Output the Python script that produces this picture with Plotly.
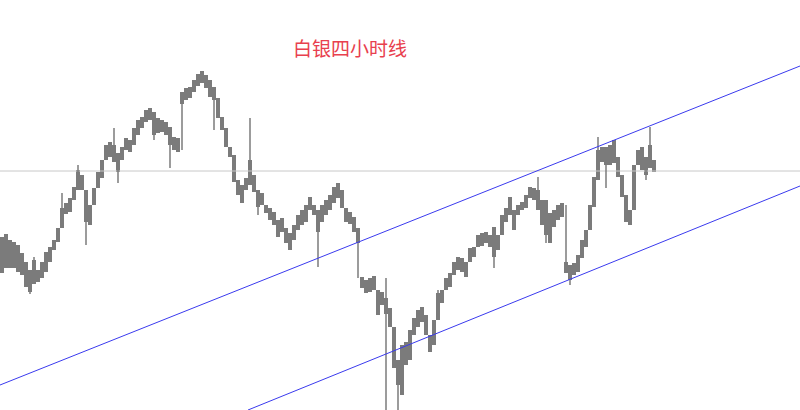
import plotly.graph_objects as go

# ---- data: silver 4-hour bars (high / low envelope per bar) ----
highs = [16.73, 16.76, 16.70, 16.68, 16.65, 16.57, 16.48, 16.40, 16.50, 16.40,
         16.48, 16.58, 16.63, 16.70, 16.82, 17.02, 17.07, 17.12, 17.23, 17.40,
         17.35, 17.20, 17.05, 17.22, 17.38, 17.50, 17.65, 17.68, 17.65, 17.57,
         17.63, 17.72, 17.70, 17.82, 17.90, 17.93, 18.00, 18.02, 17.98, 17.92,
         17.90, 17.88, 17.83, 17.73, 17.72, 18.18, 18.22, 18.23, 18.30, 18.36,
         18.39, 18.35, 18.30, 18.23, 18.12, 17.93, 17.82, 17.63, 17.55, 17.30,
         17.25, 17.32, 17.50, 17.35, 17.20, 17.17, 17.05, 17.02, 16.98, 16.90,
         16.92, 16.82, 16.77, 16.85, 16.95, 17.00, 17.05, 17.13, 17.05, 17.00,
         17.05, 17.10, 17.15, 17.23, 17.27, 17.20, 17.02, 16.98, 16.93, 16.82,
         16.33, 16.30, 16.32, 16.34, 16.20, 16.18, 16.12, 16.02, 15.83, 15.50,
         15.65, 15.68, 15.80, 15.92, 16.00, 16.03, 15.95, 15.75, 15.90, 16.17,
         16.20, 16.32, 16.37, 16.48, 16.53, 16.52, 16.48, 16.62, 16.63, 16.75,
         16.77, 16.78, 16.75, 16.83, 16.75, 16.95, 17.02, 17.13, 17.00, 17.05,
         17.08, 17.15, 17.23, 17.22, 17.20, 17.10, 17.10, 16.97, 17.00, 17.05,
         17.07, 16.48, 16.45, 16.47, 16.55, 16.70, 16.80, 17.05, 17.33, 17.60,
         17.63, 17.63, 17.65, 17.70, 17.53, 17.35, 17.15, 17.00, 17.45, 17.60,
         17.63, 17.53, 17.65, 17.50]
lows = [16.37, 16.42, 16.42, 16.42, 16.38, 16.35, 16.23, 16.18, 16.26, 16.28,
        16.32, 16.38, 16.48, 16.60, 16.68, 16.82, 16.96, 16.98, 17.10, 17.20,
        17.20, 16.88, 16.85, 17.05, 17.22, 17.32, 17.50, 17.53, 17.48, 17.38,
        17.50, 17.60, 17.58, 17.65, 17.75, 17.82, 17.88, 17.90, 17.75, 17.77,
        17.78, 17.75, 17.65, 17.60, 17.58, 18.06, 18.10, 18.12, 18.18, 18.24,
        18.27, 18.22, 18.13, 18.10, 17.92, 17.80, 17.63, 17.53, 17.28, 17.15,
        17.07, 17.20, 17.25, 17.18, 17.03, 17.05, 16.97, 16.90, 16.85, 16.73,
        16.78, 16.67, 16.60, 16.70, 16.80, 16.85, 16.88, 17.00, 16.95, 16.78,
        16.88, 16.95, 17.00, 17.07, 17.12, 17.02, 16.88, 16.86, 16.78, 16.67,
        16.22, 16.17, 16.18, 16.20, 15.95, 16.05, 15.96, 15.83, 15.42, 15.25,
        15.15, 15.45, 15.50, 15.75, 15.83, 15.88, 15.75, 15.58, 15.65, 15.90,
        16.07, 16.20, 16.23, 16.35, 16.40, 16.38, 16.33, 16.48, 16.53, 16.63,
        16.64, 16.67, 16.63, 16.53, 16.60, 16.75, 16.88, 16.95, 16.80, 16.95,
        17.00, 17.02, 17.12, 17.10, 17.00, 16.85, 16.75, 16.67, 16.83, 16.90,
        16.93, 16.37, 16.30, 16.35, 16.38, 16.52, 16.63, 16.80, 17.03, 17.30,
        17.48, 17.45, 17.45, 17.47, 17.33, 17.13, 16.88, 16.85, 17.00, 17.45,
        17.40, 17.35, 17.42, 17.38]

# thin wicks poking out of the mass: bar index, wick top, wick bottom
wick_bar = [7, 8, 15, 19, 21, 28, 29, 38, 42, 45, 53, 62, 64, 79, 89, 96, 99,
            109, 123, 134, 136, 141, 142, 149, 151, 161, 162]
wick_top = [16.30, 16.53, 17.17, 17.45, 16.95, 17.82, 17.45, 17.85, 17.70, 18.18,
            18.15, 17.92, 17.10, 17.00, 16.70, 16.32, 15.50, 16.20, 16.60, 17.33,
            16.80, 17.05, 16.40, 17.73, 17.50, 17.45, 17.83]
wick_bot = [16.16, 16.35, 16.95, 17.30, 16.65, 17.60, 17.27, 17.70, 17.42, 17.60,
            17.80, 17.40, 16.95, 16.43, 16.32, 14.95, 14.95, 16.10, 16.42, 17.15,
            16.67, 16.40, 16.25, 17.55, 17.22, 17.30, 17.60]

# channel lines (bar index, price) and horizontal level
upper_x = [-0.5, 199.5]
upper_y = [15.25, 18.44]
lower_x = [61.5, 199.5]
lower_y = [15.00, 17.24]
level_price = 17.39

title_text = "白银四小时线"

# ---- figure ----
bars = list(range(len(highs)))
GRAY = "#7b7b7b"
BLUE = "#3a3aee"

fig = go.Figure()

fig.add_trace(go.Scatter(
    x=[-0.5, 199.5], y=[level_price, level_price], mode="lines",
    line=dict(color="#c8c8c8", width=1), hoverinfo="skip"))

fig.add_trace(go.Bar(
    x=bars, base=lows, y=[h - l for h, l in zip(highs, lows)],
    width=1.0, marker=dict(color=GRAY, line=dict(width=0)), hoverinfo="skip"))

wx, wy = [], []
for b, t, d in zip(wick_bar, wick_top, wick_bot):
    wx += [b, b, None]
    wy += [t, d, None]
fig.add_trace(go.Scatter(x=wx, y=wy, mode="lines",
                         line=dict(color=GRAY, width=1.5), hoverinfo="skip"))

fig.add_trace(go.Scatter(x=upper_x, y=upper_y, mode="lines",
                         line=dict(color=BLUE, width=1), hoverinfo="skip"))
fig.add_trace(go.Scatter(x=lower_x, y=lower_y, mode="lines",
                         line=dict(color=BLUE, width=1), hoverinfo="skip"))

fig.add_annotation(
    text=title_text, xref="paper", yref="paper", x=0.4375, y=0.885,
    xanchor="center", yanchor="middle", showarrow=False,
    font=dict(family="Noto Sans CJK SC", size=19, color="#e8404e"))

fig.update_layout(
    width=800, height=410, margin=dict(l=0, r=0, t=0, b=0),
    paper_bgcolor="white", plot_bgcolor="white", showlegend=False,
    bargap=0,
    xaxis=dict(range=[-0.5, 199.5], visible=False, fixedrange=True),
    yaxis=dict(range=[15.00, 19.10], visible=False, fixedrange=True),
)

fig.write_html("out.html", config={"displayModeBar": False},
               post_script="document.body.style.margin='0px';")
